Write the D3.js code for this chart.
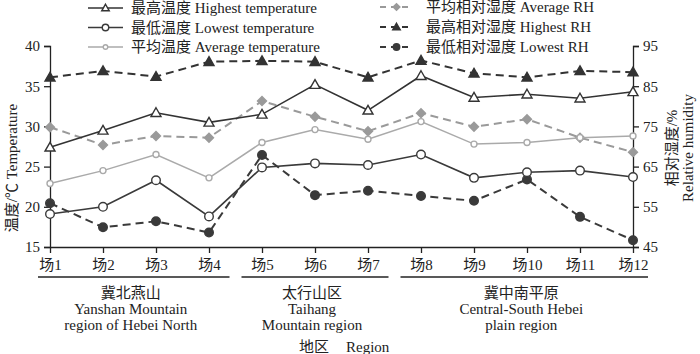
<!DOCTYPE html>
<html lang="zh">
<head>
<meta charset="UTF-8">
<title>Temperature and RH by site</title>
<style>
  body { margin: 0; background: #fff; }
  svg text { font-family: "Liberation Serif", "Noto Sans CJK SC", serif; fill: #222; }
</style>
</head>
<body>
<div id="chart"></div>
<script src="https://d3js.org/d3.v7.min.js"></script>
<script>
  // site labels and values
  const sites = ["场1","场2","场3","场4","场5","场6","场7","场8","场9","场10","场11","场12"];
  const tempHigh = [27.4, 29.5, 31.7, 30.5, 31.5, 35.2, 32.0, 36.3, 33.6, 34.0, 33.5, 34.3];
  const tempLow  = [19.1, 20.0, 23.3, 18.8, 24.9, 25.4, 25.2, 26.5, 23.6, 24.3, 24.5, 23.7];
  const tempAvg  = [22.9, 24.5, 26.5, 23.6, 28.0, 29.6, 28.4, 30.6, 27.8, 28.0, 28.6, 28.8];
  const rhAvg    = [74.8, 70.4, 72.6, 72.2, 81.3, 77.4, 73.8, 78.3, 74.9, 76.8, 72.2, 68.6];
  const rhHigh   = [87.2, 88.8, 87.4, 91.1, 91.3, 91.1, 87.2, 91.4, 88.2, 87.2, 88.8, 88.5];
  const rhLow    = [55.9, 49.9, 51.4, 48.6, 67.9, 57.9, 59.0, 57.7, 56.5, 61.8, 52.5, 46.7];
  const tempTicks = [15, 20, 25, 30, 35, 40];
  const rhTicks = [45, 55, 65, 75, 85, 95];
  const regions = [
    { from: 0, to: 3, lines: ["冀北燕山", "Yanshan Mountain", "region of Hebei North"] },
    { from: 4, to: 6, lines: ["太行山区", "Taihang", "Mountain region"] },
    { from: 7, to: 11, lines: ["冀中南平原", "Central-South Hebei", "plain region"] }
  ];

  const width = 700, height = 354;
  const plotLeft = 50, plotRight = 633, plotTop = 46, plotBottom = 247;

  const svg = d3.select("#chart").append("svg")
    .attr("width", width).attr("height", height);

  const x = d3.scalePoint().domain(sites).range([plotLeft, plotRight]);
  const yT = d3.scaleLinear().domain([15, 40]).range([plotBottom, plotTop]);
  const yR = d3.scaleLinear().domain([45, 95]).range([plotBottom, plotTop]);

  // axes
  const axL = svg.append("g").attr("transform", `translate(${plotLeft},0)`)
    .call(d3.axisLeft(yT).tickValues(tempTicks).tickSize(6).tickPadding(4));
  const axR = svg.append("g").attr("transform", `translate(${plotRight},0)`)
    .call(d3.axisRight(yR).tickValues(rhTicks).tickSize(6).tickPadding(4));
  const axB = svg.append("g").attr("transform", `translate(0,${plotBottom})`)
    .call(d3.axisBottom(x).tickSize(6).tickSizeOuter(0).tickPadding(6));
  [axL, axR, axB].forEach(g => {
    g.selectAll("path, line").attr("stroke", "#222").attr("stroke-width", 1.3);
    g.selectAll("text").attr("font-size", 15).attr("fill", "#222")
      .style("font-family", '"Liberation Serif", "Noto Sans CJK SC", serif');
  });

  // axis titles
  svg.append("text")
    .attr("transform", `translate(17,168) rotate(-90)`)
    .attr("text-anchor", "middle").attr("font-size", 15)
    .text("温度/℃ Temperature");
  svg.append("text")
    .attr("transform", `translate(677,148) rotate(-90)`)
    .attr("text-anchor", "middle").attr("font-size", 15)
    .text("相对湿度/%");
  svg.append("text")
    .attr("transform", `translate(693,148) rotate(-90)`)
    .attr("text-anchor", "middle").attr("font-size", 15)
    .text("Relative humidity");

  // region brackets: split halfway between neighbouring sites
  const step = x.step();
  regions.forEach(r => {
    const x0 = r.from === 0 ? x(sites[0]) - 12 : x(sites[r.from]) - step / 2 + 6;
    const x1 = r.to === sites.length - 1 ? x(sites[r.to]) + 15 : x(sites[r.to]) + step / 2 - 6;
    svg.append("line").attr("x1", x0).attr("x2", x1)
      .attr("y1", 277).attr("y2", 277).attr("stroke", "#222").attr("stroke-width", 1.3);
    r.lines.forEach((t, i) => {
      svg.append("text").attr("x", (x0 + x1) / 2 - 3).attr("y", 298 + i * 16)
        .attr("text-anchor", "middle").attr("font-size", 15).text(t);
    });
  });
  svg.append("text").attr("x", 329).attr("y", 352)
    .attr("text-anchor", "end").attr("font-size", 15).text("地区");
  svg.append("text").attr("x", 346).attr("y", 352)
    .attr("font-size", 15).text("Region");

  // series definitions
  const series = [
    { name: "平均相对湿度 Average RH", values: rhAvg, y: yR, color: "#9a9a9a", dash: "8,5", width: 2, marker: "diamond", fill: "#9a9a9a", size: 4.5 },
    { name: "最高相对湿度 Highest RH", values: rhHigh, y: yR, color: "#333", dash: "8,5", width: 2, marker: "triangle", fill: "#333", size: 5 },
    { name: "最低相对湿度 Lowest RH", values: rhLow, y: yR, color: "#3a3a3a", dash: "8,5", width: 2, marker: "circle", fill: "#3a3a3a", size: 4.3 },
    { name: "平均温度 Average temperature", values: tempAvg, y: yT, color: "#aaa", dash: null, width: 1.5, marker: "circle", fill: "#fff", size: 3 },
    { name: "最低温度 Lowest temperature", values: tempLow, y: yT, color: "#3a3a3a", dash: null, width: 1.6, marker: "circle", fill: "#fff", size: 4.3 },
    { name: "最高温度 Highest temperature", values: tempHigh, y: yT, color: "#333", dash: null, width: 1.6, marker: "triangle", fill: "#fff", size: 5 }
  ];

  function drawMarker(g, s, cx, cy) {
    const k = s.size;
    let m;
    if (s.marker === "circle") {
      m = g.append("circle").attr("cx", cx).attr("cy", cy).attr("r", k);
    } else if (s.marker === "triangle") {
      m = g.append("path").attr("d", `M${cx},${cy - k}L${cx + k},${cy + k * 0.75}L${cx - k},${cy + k * 0.75}Z`);
    } else {
      m = g.append("path").attr("d", `M${cx},${cy - k}L${cx + k},${cy}L${cx},${cy + k}L${cx - k},${cy}Z`);
    }
    m.attr("fill", s.fill).attr("stroke", s.color).attr("stroke-width", 1.4);
  }

  const line = (s) => d3.line().x((d, i) => x(sites[i])).y(d => s.y(d));

  series.forEach(s => {
    const g = svg.append("g");
    g.append("path").datum(s.values)
      .attr("d", line(s)).attr("fill", "none")
      .attr("stroke", s.color).attr("stroke-width", s.width)
      .attr("stroke-dasharray", s.dash);
    s.values.forEach((v, i) => drawMarker(g, s, x(sites[i]), s.y(v)));
  });

  // legend
  const legendLeft = ["最高温度 Highest temperature", "最低温度 Lowest temperature", "平均温度 Average temperature"];
  const legendRight = ["平均相对湿度 Average RH", "最高相对湿度 Highest RH", "最低相对湿度 Lowest RH"];
  function legendItem(name, lx, ly, len, tx) {
    const s = series.find(d => d.name === name);
    const g = svg.append("g");
    g.append("line").attr("x1", lx).attr("x2", lx + len).attr("y1", ly).attr("y2", ly)
      .attr("stroke", s.color).attr("stroke-width", s.width)
      .attr("stroke-dasharray", s.dash ? "6,5" : null);
    drawMarker(g, Object.assign({}, s, { size: s.size * 0.75 }), lx + len / 2, ly);
    g.append("text").attr("x", tx).attr("y", ly + 5).attr("font-size", 15).text(name);
  }
  legendLeft.forEach((n, i) => legendItem(n, 88, 8 + i * 19.5, 35, 131));
  legendRight.forEach((n, i) => legendItem(n, 380, 7 + i * 20, 33, 426));
</script>
</body>
</html>
